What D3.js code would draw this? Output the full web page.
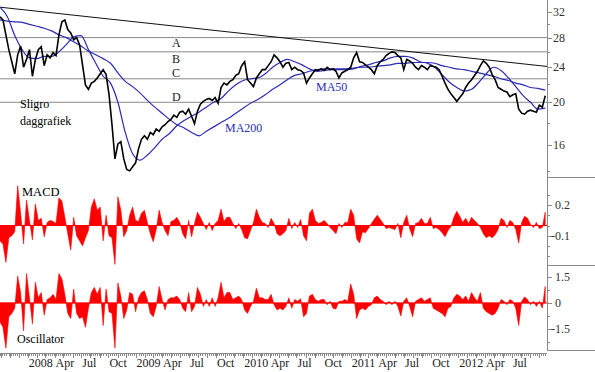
<!DOCTYPE html>
<html>
<head>
<meta charset="utf-8">
<script src="https://cdn.jsdelivr.net/npm/d3@7"></script>
<style>
  body { margin: 0; background: #fff; }
  text { font-family: "Liberation Serif", "Times New Roman", serif; }
</style>
</head>
<body>
<svg id="chart"></svg>
<script>
// Sligro daily chart with MA50/MA200, MACD histogram and oscillator

let width = 595
let height = 372
let plotRight = 547

let startDate = new Date(2007, 8, 29)
let endDate = new Date(2012, 9, 28)
let priceStep = 10 // days between samples of price, macd and oscillator
let maStep = 25    // days between samples of the moving averages

let price = [31.2,30.7,28.4,26.3,24.7,23.2,25.6,26.8,24.0,25.0,
  26.3,22.9,25.0,26.3,26.7,24.2,25.6,25.2,25.9,25.5,
  28.4,30.4,30.7,29.2,28.7,27.7,28.0,27.0,24.3,21.9,
  21.4,22.1,22.3,22.7,23.2,23.7,23.1,20.8,17.8,14.9,
  16.1,16.3,14.9,14.1,14.0,14.3,14.6,15.7,16.5,16.8,
  16.5,17.1,16.9,17.4,17.2,17.6,17.8,18.1,18.3,18.7,
  18.5,19.0,19.1,18.8,19.3,18.6,17.9,19.1,19.8,20.1,
  20.3,20.4,20.2,20.5,19.9,21.6,22.1,21.9,22.3,22.5,
  23.0,23.2,24.2,24.7,22.5,22.1,21.7,22.7,23.2,23.7,
  23.7,24.2,24.7,25.6,25.2,24.7,24.0,24.5,24.6,23.7,
  24.0,23.7,23.6,23.3,22.1,22.7,23.2,23.7,23.6,23.8,
  23.6,24.0,23.7,23.8,23.5,22.7,23.3,23.5,23.7,24.0,
  25.2,25.9,24.7,24.6,24.3,24.0,23.7,23.2,24.2,24.7,
  25.0,25.5,25.8,26.0,25.9,25.5,25.2,23.7,25.0,24.8,
  24.5,24.0,23.7,24.2,24.0,23.7,24.2,24.1,24.0,23.7,
  22.9,22.1,21.4,20.9,20.5,20.1,20.5,20.9,21.6,22.1,
  22.5,23.0,23.5,24.2,24.8,24.5,24.0,23.1,22.5,21.6,
  21.4,21.2,21.1,20.6,20.8,20.9,19.3,18.9,18.8,19.1,
  19.2,19.1,19.0,19.7,19.5,20.7]

let ma50 = [32.8,31.2,28.3,26.3,25.2,25.1,25.4,25.4,26.0,27.0,
  28.1,28.3,26.3,24.5,22.9,22.1,20.0,17.1,15.3,14.8,
  15.2,15.8,16.5,17.0,17.7,18.2,18.6,19.0,19.5,20.0,
  20.4,21.2,21.9,22.4,22.6,22.7,23.2,24.0,24.6,25.0,
  24.7,24.3,23.8,23.5,23.6,23.7,23.7,23.7,23.8,24.1,
  24.3,24.6,24.8,25.2,25.4,25.4,25.2,24.7,24.5,24.0,
  23.1,22.2,21.6,21.2,21.4,22.2,23.2,24.0,23.6,22.7,
  21.7,20.7,20.0,19.3,19.4]

let ma200 = [30.7,30.5,30.4,30.3,30.0,29.7,29.4,29.0,28.4,28.0,
  27.4,26.8,26.1,25.6,25.1,24.5,23.3,22.3,21.7,21.0,
  20.2,19.5,18.9,18.3,17.8,17.5,17.1,16.8,17.2,17.6,
  18.0,18.4,18.9,19.4,19.9,20.3,20.8,21.4,21.9,22.5,
  23.0,23.2,23.5,23.7,23.8,23.8,23.8,23.8,23.9,24.0,
  24.0,24.1,24.2,24.3,24.5,24.5,24.6,24.6,24.6,24.5,
  24.2,24.0,23.8,23.7,23.5,23.3,23.1,22.9,22.6,22.4,
  22.1,21.9,21.6,21.5,21.3]

let macd = [-0.15,-0.18,-0.36,-0.12,-0.10,-0.06,0.39,0.12,-0.18,0.25,
  0.05,-0.14,0.21,0.05,0.07,-0.11,0.03,0.05,0.04,0.02,
  0.27,0.24,0.08,-0.08,-0.24,0.08,-0.10,-0.15,-0.20,-0.12,
  -0.05,0.18,0.26,0.15,0.18,-0.15,0.10,-0.10,-0.12,-0.38,
  0.28,0.15,-0.11,-0.05,0.10,0.18,0.05,0.04,0.12,0.15,
  0.03,-0.08,-0.16,-0.04,0.15,0.03,-0.05,-0.10,0.04,0.05,
  0.08,0.03,-0.08,-0.13,0.05,-0.11,0.02,0.13,0.08,0.02,
  -0.04,0.03,-0.05,0.02,0.05,0.16,0.04,0.08,0.08,0.02,
  -0.03,0.02,-0.04,-0.12,-0.13,-0.05,0.03,0.16,0.08,0.03,
  0.02,-0.02,0.07,0.02,-0.08,-0.10,-0.08,-0.05,0.07,-0.03,
  0.03,-0.02,0.06,-0.10,-0.15,0.12,0.16,0.05,0.02,0.03,
  0.05,0.02,-0.02,-0.05,-0.08,0.02,-0.02,0.03,0.03,0.16,
  0.10,-0.13,-0.17,-0.06,-0.07,-0.03,0.02,0.06,0.10,0.06,
  0.02,-0.03,-0.02,-0.03,-0.04,0.02,-0.12,0.03,0.10,-0.03,
  -0.11,0.02,0.03,0.07,0.02,0.02,0.08,-0.03,-0.02,-0.04,
  -0.07,-0.11,-0.05,-0.01,0.08,0.14,0.09,0.03,0.07,0.02,
  0.08,0.05,0.02,-0.02,-0.08,-0.12,-0.10,-0.12,-0.09,-0.04,
  0.07,0.05,-0.02,0.05,0.03,-0.04,-0.17,0.03,0.09,0.07,
  0.01,-0.02,0.03,-0.03,-0.02,0.13]

let osc = [-1.1,-1.4,-2.6,-0.8,-0.6,-0.3,1.55,0.6,-1.6,1.7,
  0.3,-1.2,1.2,0.3,0.6,-0.7,0.2,0.3,0.5,0.2,
  1.7,1.4,0.5,-0.6,-0.9,0.8,-0.6,-0.9,-0.8,-1.4,
  -0.3,0.6,0.9,0.5,0.9,-1.3,0.8,-0.5,-0.6,-2.6,
  1.15,0.4,-0.9,-0.4,0.6,0.5,-0.5,0.3,0.6,0.7,
  0.2,-0.6,-0.8,-0.2,0.95,0.2,-0.4,0.2,0.3,0.3,
  0.4,0.2,-0.3,-0.5,0.6,-0.5,-0.2,0.9,0.5,-0.2,
  0.2,-0.2,0.3,-0.2,0.3,1.2,0.3,0.6,0.6,0.2,
  0.3,0.4,0.2,-0.4,-0.6,-0.2,0.1,0.85,0.3,0.3,
  0.2,0.2,0.5,-0.1,-0.4,-0.3,-0.4,-0.2,0.3,-0.3,
  0.2,0.1,0.25,-0.8,-0.6,0.4,0.5,0.2,0.1,0.2,
  0.2,-0.1,0.1,-0.3,-0.35,0.1,0.1,0.2,0.1,1.1,
  0.5,-0.9,-0.4,-0.3,-0.4,-0.2,-0.1,0.3,0.4,0.2,
  0.1,-0.1,0.1,-0.1,0.1,-0.2,-0.75,0.1,0.3,-0.2,
  -0.8,0.1,0.2,0.3,0.1,0.2,0.3,-0.3,-0.4,-0.5,
  -0.6,-0.8,-0.3,-0.2,0.3,0.5,0.4,0.2,0.4,0.1,
  0.6,0.3,0.1,0.6,-0.3,-0.5,-0.6,-0.7,-0.6,-0.3,
  0.2,0.1,-0.1,0.2,0.1,-0.3,-1.3,0.1,0.35,0.2,
  -0.1,0.1,-0.2,0.1,-0.3,0.95]

let levels = [28, 26, 22.6, 20]
let levelNames = ["A", "B", "C", "D"]
let levelLabelDy = [9, 11, -2, -1]
let trend = [32.8, 24.1] // trend line value at start and end of the axis

let priceTicks = [16, 20, 24, 28, 32]
let priceMinor = [14, 18, 22, 26, 30]
let macdTicks = [0.2, -0.1]
let macdMinor = [0.3, 0.1, 0, -0.2, -0.3]
let oscTicks = [1.5, 0, -1.5]
let oscMinor = [0.75, -0.75, -2.25]

let blue = "#2b2bb5"
let grey = "#8a8a8a"

let svg = d3.select("#chart").attr("width", width).attr("height", height)

let x = d3.scaleTime().domain([startDate, endDate]).range([0, plotRight])
let yPrice = d3.scaleLog().domain([13.56, 34.05]).range([177, 0])
let yMacd = d3.scaleLinear().domain([-0.386, 0.474]).range([265, 177])
let yOsc = d3.scaleLinear().domain([-2.71, 2.19]).range([350, 265])

let dateAt = (i, step) => d3.timeDay.offset(startDate, i * step)

// clip paths for the panels
let defs = svg.append("defs")
let addClip = (id, y0, y1) => {
  defs.append("clipPath").attr("id", id)
      .append("rect").attr("x", 0).attr("y", y0).attr("width", plotRight).attr("height", y1 - y0)
}
addClip("clipPrice", 0, 177)
addClip("clipMacd", 177, 265)
addClip("clipOsc", 265, 350)

// ---- price panel ----
let pricePanel = svg.append("g").attr("clip-path", "url(#clipPrice)")

levels.forEach((lv, k) => {
  pricePanel.append("line")
    .attr("x1", 0).attr("x2", plotRight)
    .attr("y1", yPrice(lv)).attr("y2", yPrice(lv))
    .attr("stroke", grey).attr("stroke-width", 1)
  svg.append("text")
    .attr("x", 172).attr("y", yPrice(lv) + levelLabelDy[k])
    .attr("font-size", 12).attr("fill", "#222")
    .text(levelNames[k])
})

pricePanel.append("line")
  .attr("x1", x(startDate)).attr("y1", yPrice(trend[0]))
  .attr("x2", x(endDate)).attr("y2", yPrice(trend[1]))
  .attr("stroke", "#111").attr("stroke-width", 1)

let maLine = d3.line()
  .x((d, i) => x(dateAt(i, maStep)))
  .y(d => yPrice(d))
  .curve(d3.curveMonotoneX)

pricePanel.append("path").datum(ma200)
  .attr("d", maLine).attr("fill", "none").attr("stroke", blue).attr("stroke-width", 1.2)
pricePanel.append("path").datum(ma50)
  .attr("d", maLine).attr("fill", "none").attr("stroke", blue).attr("stroke-width", 1.2)

pricePanel.append("path").datum(price)
  .attr("d", d3.line().x((d, i) => x(dateAt(i, priceStep))).y(d => yPrice(d)))
  .attr("fill", "none").attr("stroke", "#000").attr("stroke-width", 1.6)
  .attr("stroke-linejoin", "miter")

svg.append("text").attr("x", 20).attr("y", 108).attr("font-size", 12).text("Sligro")
svg.append("text").attr("x", 20).attr("y", 125).attr("font-size", 12).text("daggrafiek")
svg.append("text").attr("x", 316).attr("y", 91).attr("font-size", 12).attr("fill", blue).text("MA50")
svg.append("text").attr("x", 225).attr("y", 132).attr("font-size", 12).attr("fill", blue).text("MA200")

// ---- histogram panels ----
let drawHist = (data, yScale, clipId) => {
  let g = svg.append("g").attr("clip-path", "url(#" + clipId + ")")
  g.append("path").datum(data)
    .attr("d", d3.area()
      .x((d, i) => x(dateAt(i, priceStep)))
      .y0(yScale(0))
      .y1(d => yScale(d)))
    .attr("fill", "#ff0000").attr("stroke", "#ff0000").attr("stroke-width", 0.6)
  g.append("line")
    .attr("x1", 0).attr("x2", plotRight)
    .attr("y1", yScale(0)).attr("y2", yScale(0))
    .attr("stroke", "#ff0000").attr("stroke-width", 1)
}
drawHist(macd, yMacd, "clipMacd")
drawHist(osc, yOsc, "clipOsc")

svg.append("text").attr("x", 22).attr("y", 196).attr("font-size", 12.5).text("MACD")
svg.append("text").attr("x", 17).attr("y", 343).attr("font-size", 12).text("Oscillator")

// ---- right axis ----
let axis = svg.append("g").attr("stroke", grey).attr("stroke-width", 1)
axis.append("line").attr("x1", plotRight + 0.5).attr("x2", plotRight + 0.5).attr("y1", 0).attr("y2", 350)
;[177, 265, 350].forEach(yy => {
  axis.append("line").attr("x1", plotRight).attr("x2", width).attr("y1", yy + 0.5).attr("y2", yy + 0.5)
})

let drawTicks = (majors, minors, yScale, fmt, labelX) => {
  minors.forEach(v => {
    axis.append("line").attr("x1", plotRight).attr("x2", plotRight + 3)
      .attr("y1", Math.round(yScale(v)) + 0.5).attr("y2", Math.round(yScale(v)) + 0.5)
  })
  majors.forEach(v => {
    axis.append("line").attr("x1", plotRight).attr("x2", plotRight + 5)
      .attr("y1", Math.round(yScale(v)) + 0.5).attr("y2", Math.round(yScale(v)) + 0.5)
    svg.append("text")
      .attr("x", labelX - (v < 0 ? 4 : 0)).attr("y", yScale(v)).attr("dy", "0.35em")
      .attr("font-size", 12).attr("fill", "#333")
      .text(fmt(v))
  })
}
drawTicks(priceTicks, priceMinor, yPrice, d3.format("d"), 553)
drawTicks(macdTicks, macdMinor, yMacd, v => d3.format(".1f")(v).replace("−", "-"), 555)
drawTicks(oscTicks, oscMinor, yOsc, v => (v === 0 ? "0" : d3.format(".1f")(v).replace("−", "-")), 555)

// ---- time axis ----
let axisY = 353
axis.append("line").attr("x1", 0).attr("x2", plotRight).attr("y1", axisY + 0.5).attr("y2", axisY + 0.5)
d3.timeWeek.range(startDate, endDate).forEach(d => {
  axis.append("line").attr("x1", Math.round(x(d)) + 0.5).attr("x2", Math.round(x(d)) + 0.5)
    .attr("y1", axisY).attr("y2", axisY + 3)
})
d3.timeMonth.range(startDate, endDate).forEach(d => {
  axis.append("line").attr("x1", Math.round(x(d)) + 0.5).attr("x2", Math.round(x(d)) + 0.5)
    .attr("y1", axisY).attr("y2", axisY + 5)
})
let fmtYear = d3.timeFormat("%Y")
let fmtMonth = d3.timeFormat("%b")
// quarter labels, skipping the partial ones at both ends
d3.timeMonth.every(3).range(startDate, endDate)
  .filter(d => x(d) > 10 && x(d) < 530)
  .forEach(d => {
    svg.append("text")
      .attr("x", x(d) + 1).attr("y", 367)
      .attr("font-size", 12).attr("fill", "#222")
      .text(d.getMonth() === 0 ? fmtYear(d) : fmtMonth(d))
  })
</script>
</body>
</html>
